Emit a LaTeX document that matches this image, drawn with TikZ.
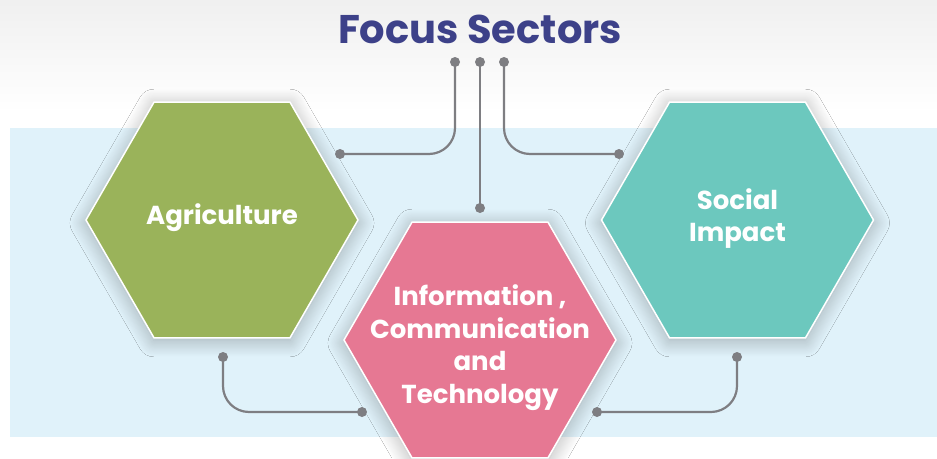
\documentclass[tikz,border=0pt]{standalone}
\usepackage{fontspec}
\setmainfont{Poppins}
\usetikzlibrary{shapes.geometric,shadows.blur}
\definecolor{bgblue}{HTML}{E0F2FA}
\definecolor{agricol}{HTML}{9AB35A}
\definecolor{soccol}{HTML}{6CC8BE}
\definecolor{ictcol}{HTML}{E67893}
\definecolor{titleblue}{HTML}{3D4189}
\definecolor{conncol}{HTML}{7E7E82}
\begin{document}
\begin{tikzpicture}[x=1pt,y=-1pt,
  hexa/.style={regular polygon, regular polygon sides=6, minimum size=272pt, inner sep=0pt,
    draw=white, line width=1.5pt,
    blur shadow={shadow xshift=0pt, shadow yshift=-3pt, shadow scale=1.0,
      shadow blur radius=16pt, shadow opacity=30, shadow blur steps=20}},
  hextext/.style={text=white, font=\fontsize{26}{32.5}\selectfont\bfseries, align=center},
  dotnode/.style={circle, fill=conncol, inner sep=0pt, minimum size=10pt},
  link/.style={draw=conncol, line width=2.2pt, rounded corners=26pt}]
\useasboundingbox (0,0) rectangle (937,458);
\clip (0,0) rectangle (937,458);
% background
\fill[white] (0,0) rectangle (937,458);
\shade[top color=gray!12, bottom color=white] (0,0) rectangle (937,112);
\fill[bgblue] (10,128) rectangle (937,437);
% title
\node[anchor=base, text=titleblue, font=\fontsize{40}{48}\selectfont\bfseries] (title) at (480,43) {Focus Sectors};
% hexagons
\node[hexa, fill=agricol] (agri) at (222,220) {};
\node[hexa, fill=soccol] (soc) at (737.5,220) {};
\node[hexa, fill=ictcol] (ict) at (480,340) {};
\node[hextext] (agritxt) at (222,218) {Agriculture};
\node[hextext] (soctxt) at (737.5,218.5) {Social\\Impact};
\node[hextext] (icttxt) at (480,347.5) {Information ,\\Communication\\and\\Technology};
% connector end points
\coordinate (t1) at (455,62);
\coordinate (e1) at (340,154);
\coordinate (t2) at (480,62);
\coordinate (e2) at (480,208);
\coordinate (t3) at (504,62);
\coordinate (e3) at (619,154);
\coordinate (t4) at (223,357);
\coordinate (e4) at (362,412);
\coordinate (t5) at (737,357);
\coordinate (e5) at (597,412);
\draw[link] (t1) |- (e1);
\draw[link] (t2) -- (e2);
\draw[link] (t3) |- (e3);
\draw[link] (t4) |- (e4);
\draw[link] (t5) |- (e5);
\foreach \p in {t1,e1,t2,e2,t3,e3,t4,e4,t5,e5}
  \node[dotnode] (\p dot) at (\p) {};
\end{tikzpicture}
\end{document}
